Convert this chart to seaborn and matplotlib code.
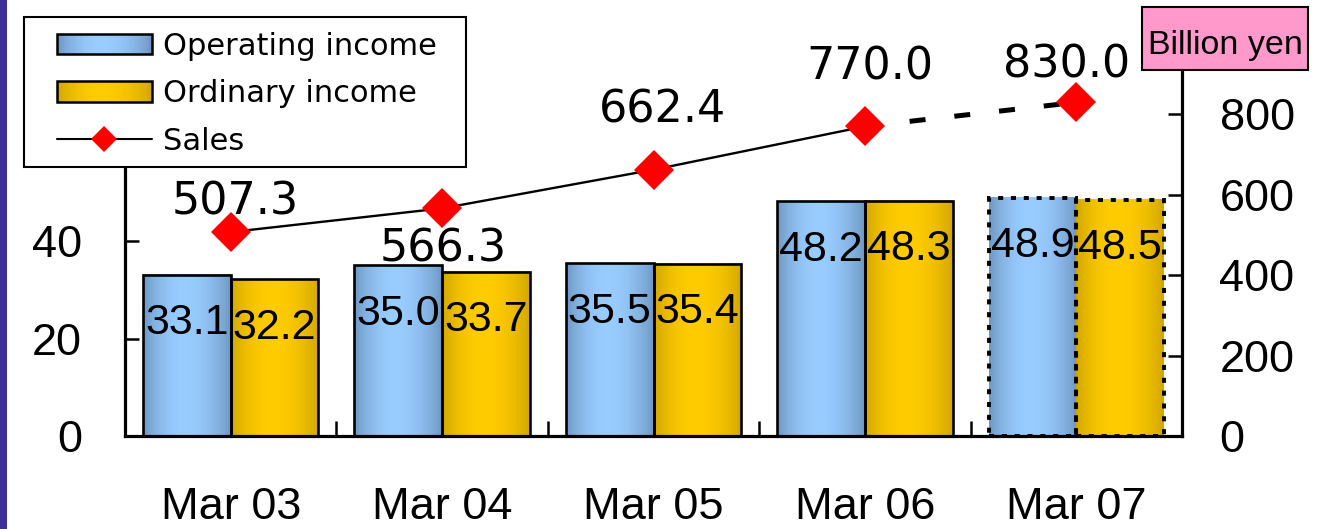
import numpy as np
import pandas as pd
import seaborn as sns
import matplotlib
matplotlib.use("Agg")
import matplotlib.pyplot as plt
from matplotlib.patches import Rectangle, Patch
from matplotlib.lines import Line2D
from matplotlib.legend_handler import HandlerBase
from matplotlib.ticker import FixedLocator

# ---- data (billion yen) ----
periods = ["Mar 03", "Mar 04", "Mar 05", "Mar 06", "Mar 07"]
operating_income = [33.1, 35.0, 35.5, 48.2, 48.9]
ordinary_income = [32.2, 33.7, 35.4, 48.3, 48.5]
sales = [507.3, 566.3, 662.4, 770.0, 830.0]
series_names = ["Operating income", "Ordinary income"]
left_ticks = [0, 20, 40, 60, 80]
right_ticks = [0, 200, 400, 600, 800]
forecast_period = "Mar 07"

# ---- styling ----
sns.set_style("white")
plt.rcParams["font.family"] = ["Liberation Sans", "DejaVu Sans"]
for key in ["text.color", "axes.labelcolor", "xtick.color", "ytick.color"]:
    plt.rcParams[key] = "black"

W, H = 1320, 529
fig = plt.figure(figsize=(W / 100, H / 100), dpi=100)
ax = fig.add_axes([125 / W, 1 - 436 / H, (1182 - 125) / W, (436 - 34) / H])

blue_edge, blue_mid = np.array([0.43, 0.59, 0.76]), np.array([0.60, 0.80, 1.00])
gold_edge, gold_mid = np.array([0.82, 0.65, 0.00]), np.array([1.00, 0.80, 0.00])


def gradient_colors(edge, mid, n=64, peak=0.47):
    t = np.linspace(0, 1, n)
    f = np.where(t < peak, t / peak, (1 - t) / (1 - peak))
    f = np.sin(f * np.pi / 2) ** 0.8
    return edge + (mid - edge) * f[:, None]


df = pd.DataFrame({
    "period": periods * 2,
    "value": operating_income + ordinary_income,
    "series": [series_names[0]] * len(periods) + [series_names[1]] * len(periods),
})

sns.barplot(data=df, x="period", y="value", hue="series", order=periods,
            hue_order=series_names, palette=[blue_mid, gold_mid], width=0.83,
            saturation=1, edgecolor="black", linewidth=1.9, legend=False, ax=ax)

grads = [(blue_edge, blue_mid), (gold_edge, gold_mid)]
values_by_series = [operating_income, ordinary_income]
for k, cont in enumerate(ax.containers):
    img = gradient_colors(*grads[k])[None, :, :]
    for i, bar in enumerate(cont.patches):
        x0, w, h = bar.get_x(), bar.get_width(), bar.get_height()
        ax.imshow(img, extent=(x0, x0 + w, 0, h), aspect="auto",
                  interpolation="bilinear", zorder=0.9)
        bar.set_facecolor("none")
        bar.set_zorder(1)
        if periods[i] == forecast_period:
            bar.set_linestyle((0, (1.3, 2.0)))
            bar.set_linewidth(2.8)
        ax.annotate(f"{values_by_series[k][i]:.1f}", xy=(x0 + w / 2, h),
                    xytext=(0, -35), textcoords="offset points",
                    ha="center", va="center", fontsize=31, zorder=3)

ax.set_xlim(-0.5, len(periods) - 0.5)
ax.set_ylim(0, 82.5)
ax.set_yticks(left_ticks)
ax.set_xlabel("")
ax.set_ylabel("")
ax.tick_params(axis="y", direction="in", length=10, width=1.8, pad=31,
               labelsize=32.5, left=True, right=False)
ax.tick_params(axis="x", which="major", length=0, pad=37, labelsize=32.5)
ax.xaxis.set_minor_locator(FixedLocator(np.arange(0.5, len(periods) - 1, 1.0)))
ax.tick_params(axis="x", which="minor", direction="in", length=11, width=1.8,
               bottom=True, top=False)
for side in ["left", "bottom"]:
    ax.spines[side].set_linewidth(2.3)
    ax.spines[side].set_color("black")
ax.spines["top"].set_visible(False)
ax.spines["right"].set_visible(False)

# ---- sales line on the secondary axis ----
ax2 = ax.twinx()
idx = np.arange(len(periods))
ax2.plot(idx[:-1], sales[:-1], color="black", lw=1.7, zorder=2)
ax2.plot(idx[-2:], sales[-2:], color="black", lw=3.6, linestyle=(0, (3.2, 5.8)),
         zorder=2)
ax2.plot(idx, sales, linestyle="none", marker="D", ms=20, color="#FF0000",
         markeredgewidth=0, zorder=3)
ax2.set_ylim(0, 1000)
ax2.set_yticks(right_ticks)
ax2.tick_params(axis="y", direction="in", length=10, width=1.8, pad=27,
                labelsize=32.5, right=True, left=False)
ax2.spines["right"].set_linewidth(2.3)
ax2.spines["right"].set_color("black")
for side in ["top", "left", "bottom"]:
    ax2.spines[side].set_visible(False)
ax2.set_xlim(-0.5, len(periods) - 0.5)

label_offsets = [(3, 22), (0.7, -29.5), (6.5, 43), (3.6, 43), (-7.2, 26.6)]
for i, v in enumerate(sales):
    ax2.annotate(f"{v:.1f}", xy=(i, v), xytext=label_offsets[i],
                 textcoords="offset points", ha="center", va="center",
                 fontsize=32, family="DejaVu Sans", zorder=4)

# ---- legend ----
class GradientHandler(HandlerBase):
    def __init__(self, edge, mid):
        super().__init__()
        self.cols = gradient_colors(edge, mid, n=40)

    def create_artists(self, legend, orig_handle, xdescent, ydescent,
                       width, height, fontsize, trans):
        n = len(self.cols)
        arts = []
        for j, c in enumerate(self.cols):
            arts.append(Rectangle((-xdescent + width * j / n, -ydescent),
                                  width / n * 1.02, height, facecolor=c,
                                  edgecolor="none", transform=trans))
        arts.append(Rectangle((-xdescent, -ydescent), width, height,
                              facecolor="none", edgecolor="black", lw=1.8,
                              transform=trans))
        return arts


h_op = Patch(label=series_names[0])
h_ord = Patch(label=series_names[1])
h_sales = Line2D([], [], color="black", lw=1.5, marker="D", ms=13,
                 markerfacecolor="#FF0000", markeredgewidth=0, label="Sales")

fig.patches.append(Rectangle((24 / W, 1 - 167 / H), (466 - 24) / W, (167 - 17) / H,
                             transform=fig.transFigure, facecolor="white",
                             edgecolor="black", lw=1.5, zorder=1))
leg = fig.legend(handles=[h_op, h_ord, h_sales],
                 handler_map={h_op: GradientHandler(blue_edge, blue_mid),
                              h_ord: GradientHandler(gold_edge, gold_mid)},
                 loc="upper left", bbox_to_anchor=(57 / W, 1 - 32 / H),
                 frameon=False, borderpad=0, borderaxespad=0,
                 prop={"family": "DejaVu Sans", "size": 22},
                 handlelength=3.1, handleheight=0.65, handletextpad=0.37,
                 labelspacing=0.6)
leg.set_zorder(5)

# ---- unit box ----
fig.patches.append(Rectangle((1142 / W, 1 - 70 / H), (1308 - 1142) / W, 63 / H,
                             transform=fig.transFigure, facecolor="#FF99CC",
                             edgecolor="black", lw=1.5, zorder=1))
fig.text(1225 / W, 1 - 54 / H, "Billion yen", ha="center", va="baseline",
         fontsize=24.5, zorder=2)

# ---- side strip ----
fig.patches.append(Rectangle((0, 0), 7 / W, 1, transform=fig.transFigure,
                             facecolor="#3D2E9A", edgecolor="none", zorder=1))

fig.savefig("out.png", dpi=100)
